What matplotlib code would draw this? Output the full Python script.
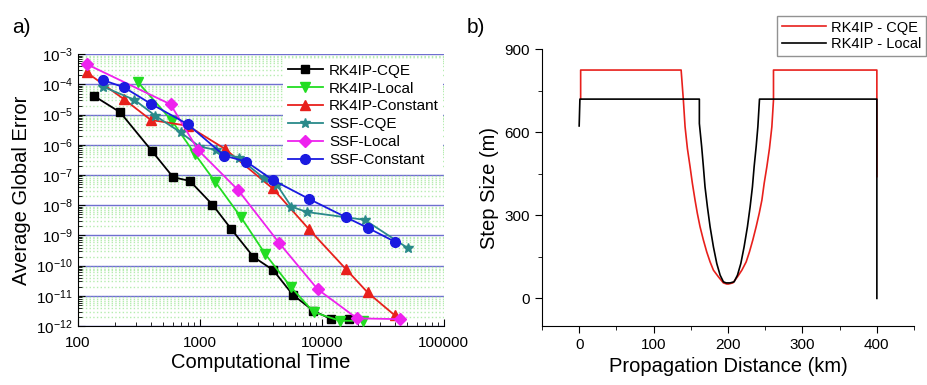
import matplotlib
matplotlib.use('Agg')
import matplotlib.pyplot as plt
import matplotlib.ticker as ticker

# ---- panel a) error vs computational time ----
rk4ip_cqe_t = [135, 222, 404, 604, 828, 1270, 1796, 2754, 3990, 5780, 8550, 12000, 16750]
rk4ip_cqe_e = [4.2e-5, 1.2e-5, 6.3e-7, 8.5e-8, 6.4e-8, 1.05e-8, 1.7e-9, 1.95e-10, 7.2e-11, 1.1e-11, 3.2e-12, 1.7e-12, 1.7e-12]

rk4ip_local_t = [310, 590, 910, 1337, 2168, 3450, 5570, 8590, 14100, 21970]
rk4ip_local_e = [1.2e-4, 6.3e-6, 5e-7, 6e-8, 4.1e-9, 2.4e-10, 2e-11, 2.9e-12, 1.5e-12, 1.5e-12]

rk4ip_const_t = [118, 240, 396, 795, 1604, 3963, 7870, 15850, 23800, 39600]
rk4ip_const_e = [2.5e-4, 3.2e-5, 6.7e-6, 4.3e-6, 7.4e-7, 3.6e-8, 1.6e-9, 7.6e-11, 1.3e-11, 2.3e-12]

ssf_cqe_t = [160, 291, 430, 695, 993, 1362, 2100, 3350, 4300, 5640, 7530, 22500, 51000]
ssf_cqe_e = [8.5e-5, 3.1e-5, 9.3e-6, 2.6e-6, 8.8e-7, 6.8e-7, 3.6e-7, 8e-8, 4.7e-8, 9e-9, 6e-9, 3.3e-9, 3.8e-10]

ssf_local_t = [118, 575, 967, 2060, 4500, 9270, 19500, 43700]
ssf_local_e = [4.7e-4, 2.2e-5, 6.8e-7, 3.2e-8, 5.5e-10, 1.65e-11, 1.8e-12, 1.7e-12]

ssf_const_t = [160, 238, 396, 798, 1585, 2400, 3963, 7920, 15850, 23800, 39600]
ssf_const_e = [1.4e-4, 8.1e-5, 2.3e-5, 4.8e-6, 4.4e-7, 2.8e-7, 6.9e-8, 1.6e-8, 4e-9, 1.8e-9, 6.3e-10]

# ---- panel b) step size vs distance (curve vertices) ----
cqe_z = [2, 2, 137, 140, 142.3, 145.4, 149, 152.1, 155.7, 158.8, 162.4, 166.9, 171.4, 175.9,
         180.4, 187.1, 193.8, 198.4, 200.5, 206.5, 212.7, 218.6, 224.4, 228.8, 233.3, 237.8,
         241.9, 245.5, 248.6, 252.2, 255.7, 258.9, 261.1, 261.1, 400, 400]
cqe_h = [720, 825, 825, 717, 620, 542, 476, 416, 355, 307, 259, 211, 168, 132,
         102, 78, 56, 52, 52, 56, 78, 102, 132, 168, 211, 259,
         307, 355, 416, 476, 542, 620, 717, 825, 825, 440]

local_z = [0, 1, 161.5, 161.5, 164.6, 166.9, 169.1, 172.3, 175.9, 180.4, 184.9, 189.4, 193.8,
           197.4, 202.8, 208.2, 212.7, 217.2, 221.6, 226.1, 229.7, 232.8, 235.1, 237.8, 240.1,
           242.3, 400, 400]
local_h = [623, 720, 720, 632, 548, 476, 403, 331, 259, 186, 126, 84, 60,
           56, 56, 60, 84, 126, 186, 259, 331, 403, 476, 548, 620,
           720, 720, 0]

plt.rcParams['font.family'] = ['Liberation Sans', 'DejaVu Sans']
plt.rcParams['mathtext.fontset'] = 'custom'
plt.rcParams['mathtext.rm'] = 'Liberation Sans'

fig = plt.figure(figsize=(9.28, 3.85), dpi=100)
ax1 = fig.add_axes([0.084, 0.153, 0.394, 0.706])
ax2 = fig.add_axes([0.584, 0.153, 0.401, 0.719])

series = [
    (rk4ip_cqe_t, rk4ip_cqe_e, 'RK4IP-CQE', 'black', 's', 5.5),
    (rk4ip_local_t, rk4ip_local_e, 'RK4IP-Local', '#22dd22', 'v', 7),
    (rk4ip_const_t, rk4ip_const_e, 'RK4IP-Constant', '#e8201c', '^', 7),
    (ssf_cqe_t, ssf_cqe_e, 'SSF-CQE', '#2a8a8a', '*', 7),
    (ssf_local_t, ssf_local_e, 'SSF-Local', '#ee22ee', 'D', 6),
    (ssf_const_t, ssf_const_e, 'SSF-Constant', '#1a1ae0', 'o', 7),
]
for t, e, lab, c, m, ms in series:
    ax1.plot(t, e, color=c, marker=m, markersize=ms, linewidth=1.3, label=lab, zorder=3)

ax1.set_xscale('log')
ax1.set_yscale('log')
ax1.set_xlim(100, 1e5)
ax1.set_ylim(1e-12, 1e-3)
ax1.yaxis.set_major_locator(ticker.LogLocator(base=10, numticks=20))
ax1.yaxis.set_minor_locator(ticker.LogLocator(base=10, subs=range(2, 10), numticks=20))
ax1.yaxis.set_minor_formatter(ticker.NullFormatter())
ax1.xaxis.set_major_formatter(ticker.FuncFormatter(lambda v, p: '%d' % v))
ax1.grid(True, which='major', axis='y', color='#6f6fd0', linewidth=1.0, zorder=0)
ax1.grid(True, which='minor', axis='y', color='#b6ecb0', linewidth=1.0, linestyle=':', zorder=0)
ax1.set_axisbelow(True)
for s in ['top', 'right']:
    ax1.spines[s].set_visible(False)
ax1.tick_params(which='both', direction='in', labelsize=11)
ax1.tick_params(which='major', length=5)
ax1.tick_params(which='minor', length=3)
ax1.tick_params(axis='x', pad=7)
ax1.set_xlabel('Computational Time', fontsize=14.5, labelpad=2)
ax1.set_ylabel('Average Global Error', fontsize=14.5)
leg1 = ax1.legend(loc='upper left', bbox_to_anchor=(0.54, 1.01), fontsize=11,
                  frameon=True, facecolor='white', edgecolor='none', fancybox=False,
                  handlelength=2.3, labelspacing=0.25, borderpad=0.3, handletextpad=0.4,
                  framealpha=1)
leg1.set_zorder(5)

ax2.plot(cqe_z, cqe_h, color='#e8201c', linewidth=1.2, label='RK4IP - CQE')
ax2.plot(local_z, local_h, color='black', linewidth=1.2, label='RK4IP - Local')
ax2.set_xlim(-50, 450)
ax2.set_ylim(-100, 900)
ax2.set_xticks([0, 100, 200, 300, 400])
ax2.set_yticks([0, 300, 600, 900])
ax2.xaxis.set_minor_locator(ticker.MultipleLocator(50))
ax2.yaxis.set_minor_locator(ticker.MultipleLocator(150))
for s in ['top', 'right']:
    ax2.spines[s].set_visible(False)
ax2.tick_params(which='both', direction='out', labelsize=11)
ax2.tick_params(which='major', length=5)
ax2.tick_params(which='minor', length=3)
ax2.set_xlabel('Propagation Distance (km)', fontsize=14.5)
ax2.set_ylabel('Step Size (m)', fontsize=14.5)
leg2 = fig.legend(*ax2.get_legend_handles_labels(), loc='upper right',
                  bbox_to_anchor=(0.998, 0.958), fontsize=10.5, frameon=True,
                  fancybox=False, edgecolor='#777777', handlelength=3.0,
                  labelspacing=0.2, borderpad=0.3, handletextpad=0.4, borderaxespad=0)
leg2.get_frame().set_linewidth(1.0)

fig.text(0.013, 0.915, 'a)', fontsize=15)
fig.text(0.503, 0.915, 'b)', fontsize=15)

fig.savefig('out.png', dpi=100)
